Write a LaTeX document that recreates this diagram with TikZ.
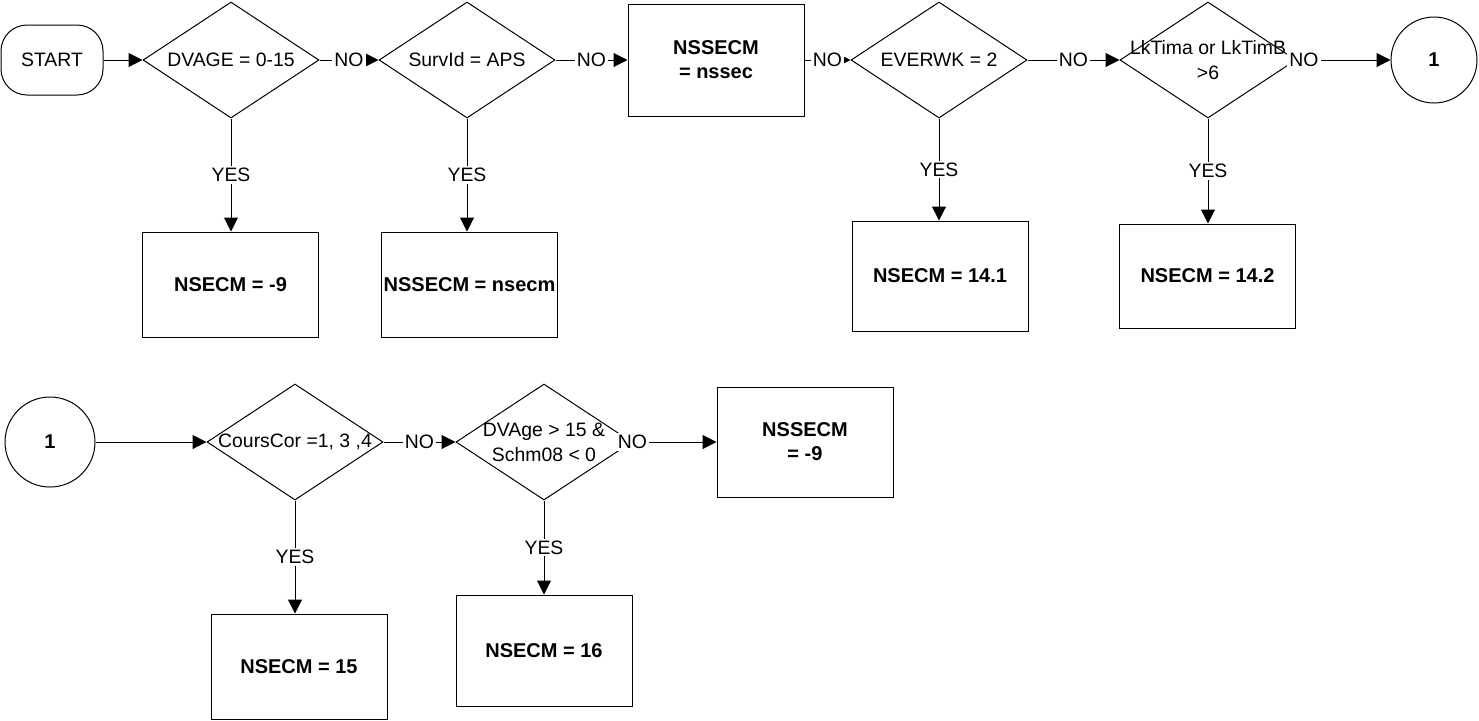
\documentclass[tikz,border=0pt]{standalone}
\usepackage{fontspec}
\setmainfont{Liberation Sans}
\usepackage{tikz}
\usetikzlibrary{arrows.meta,positioning,shapes.geometric}
\tikzset{
  dec/.style={diamond,draw,minimum width=88pt,minimum height=58pt,inner sep=0pt},
  res/.style={draw,align=center,inner xsep=0pt,font=\bfseries,minimum width=88pt},
  term/.style={draw,rounded corners=13pt,minimum width=51pt,minimum height=35pt,inner sep=0pt},
  conn/.style={circle,draw,inner sep=0pt,font=\bfseries},
  ar/.style={-{Triangle[length=7pt,width=7pt]},line width=0.5pt},
  lbl/.style={fill=white,inner sep=1pt},
}
\begin{document}
\begin{tikzpicture}[x=0.5pt,y=-0.5pt,line width=0.5pt,font=\fontsize{9.7}{12.5}\selectfont]
\useasboundingbox (0,0) rectangle (1479,720);
% top row
\node[term] (start) at (52,60) {START};
\node[dec,label={center:{DVAGE = 0-15}}] (d1) at (231,60) {};
\node[dec,label={center:{SurvId = APS}}] (d2) at (467,60) {};
\node[res,minimum height=56pt] (b0) at (716,60) {NSSECM\\= nssec};
\node[dec,label={center:{EVERWK = 2}}] (d3) at (939,60) {};
\node[dec,label={[align=center]center:{LkTima or LkTimB\\>6}}] (d4) at (1208,60) {};
\node[conn,minimum size=43pt] (c1) at (1434,60) {1};
% results of the top row
\node[res,minimum height=52.5pt] (r1) at (230.5,284.5) {NSECM = -9};
\node[res,minimum height=52.5pt] (r2) at (469.5,284.5) {NSSECM = nsecm};
\node[res,minimum height=55pt] (r3) at (940,276) {NSECM = 14.1};
\node[res,minimum height=52pt] (r4) at (1207.5,276) {NSECM = 14.2};
% second row
\node[conn,minimum size=45pt] (c2) at (50,442) {1};
\node[dec,label={center:{CoursCor =1, 3 ,4}}] (d5) at (295,442) {};
\node[dec,label={[align=center]center:{DVAge > 15 \&\\Schm08 < 0}}] (d6) at (544,442) {};
\node[res,minimum height=55pt] (r5) at (805,442) {NSSECM\\= -9};
\node[res,minimum height=52.5pt] (r6) at (299,666.5) {NSECM = 15};
\node[res,minimum height=55.5pt] (r7) at (544,650.5) {NSECM = 16};
% connectors
\draw[ar] (start.east) -- (d1.west);
\draw[ar] (c2.east) -- (d5.west);
\foreach \a/\b in {d1/d2,d2/b0,b0/d3,d3/d4,d5/d6}
  \draw[ar] (\a.east) -- node[lbl]{NO} (\b.west);
\draw[ar] (d4.east) -- node[lbl,pos=0.08]{NO} (c1.west);
\draw[ar] (d6.east) -- node[lbl,pos=0]{NO} (r5.west);
\foreach \a/\b in {d1/r1,d2/r2,d3/r3,d4/r4,d5/r6,d6/r7}
  \draw[ar] (\a.south) -- node[lbl]{YES} (\a.south |- \b.north);
\end{tikzpicture}
\end{document}
